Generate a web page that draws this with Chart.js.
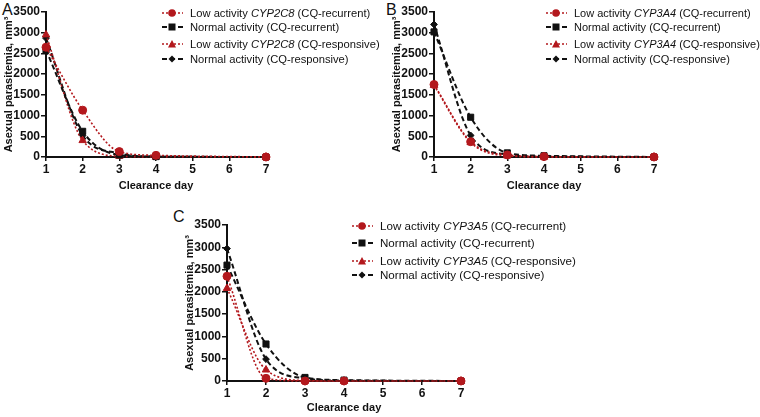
<!DOCTYPE html>
<html>
<head>
<meta charset="utf-8">
<script src="https://cdn.jsdelivr.net/npm/chart.js@4.4.0/dist/chart.umd.min.js"></script>
<style>
  body { margin: 0; background: #fff; font-family: "Liberation Sans", Arial, sans-serif; }
  #wrap { position: relative; width: 760px; height: 417px; overflow: hidden; }
  .box { position: absolute; }
  .tag { position: absolute; font-size: 16px; line-height: 16px; color: #111; }
  .leg { position: absolute; color: #111; white-space: nowrap; }
  .row { position: absolute; left: 0; height: 14px; line-height: 14px; }
  .row svg { position: absolute; left: 0; top: 2px; }
  .row .t { position: absolute; left: 28px; }
</style>
</head>
<body>
<div id="wrap">
  <div class="tag" style="left:2px;top:2px">A</div>
  <div class="tag" style="left:386px;top:2px">B</div>
  <div class="tag" style="left:173px;top:209px">C</div>

  <div class="box" style="left:0;top:0;width:280px;height:195px"><canvas id="chartA"></canvas></div>
  <div class="box" style="left:388px;top:0;width:280px;height:195px"><canvas id="chartB"></canvas></div>
  <div class="box" style="left:181px;top:213px;width:294px;height:204px"><canvas id="chartC"></canvas></div>

  <div class="leg" id="legA" style="left:162px;top:0;font-size:11.2px"></div>
  <div class="leg" id="legB" style="left:546px;top:0;font-size:11px"></div>
  <div class="leg" id="legC" style="left:352px;top:213px;font-size:11.6px"></div>
</div>

<script>
// clearance days that were sampled (5 and 6 have no points)
const days = [1, 2, 3, 4, 7];
const yMax = 3500;
const yStep = 500;

// panel A - CYP2C8
const lowC8Rec   = [2650, 1130, 130, 40, 0];
const normC8Rec  = [2580, 620, 50, 10, 0];
const lowC8Resp  = [2950, 400, 20, 0, 0];
const normC8Resp = [2870, 520, 90, 10, 0];

// panel B - CYP3A4
const lowA4Rec   = [1750, 370, 50, 10, 0];
const normA4Rec  = [3020, 960, 100, 30, 0];
const lowA4Resp  = [1730, 350, 30, 0, 0];
const normA4Resp = [3200, 520, 60, 10, 0];

// panel C - CYP3A5
const lowA5Rec   = [2350, 60, 0, 0, 0];
const normA5Rec  = [2600, 830, 80, 20, 0];
const lowA5Resp  = [2080, 250, 10, 0, 0];
const normA5Resp = [2970, 490, 60, 10, 0];

const RED = '#b3181d';
const BLACK = '#111111';

const styles = {
  lowRec:   { color: RED,   point: 'circle',   radius: 4,   dash: [2, 2], width: 1.6 },
  normRec:  { color: BLACK, point: 'rect',     radius: 4.3, dash: [5, 3], width: 2 },
  lowResp:  { color: RED,   point: 'triangle', radius: 4.3, dash: [2, 2], width: 1.6 },
  normResp: { color: BLACK, point: 'rectRot',  radius: 3.4, dash: [5, 3], width: 2 }
};

function ds(label, values, kind) {
  const s = styles[kind];
  return {
    label: label,
    data: days.map((d, i) => ({ x: d, y: values[i] })),
    borderColor: s.color,
    backgroundColor: s.color,
    borderDash: s.dash,
    borderWidth: s.width,
    pointStyle: s.point,
    pointRadius: s.radius,
    pointBorderWidth: 1,
    cubicInterpolationMode: 'monotone',
    clip: false
  };
}

function makeChart(id, sets, xHeight) {
  const tickFont = { family: '"Liberation Sans", Arial, sans-serif', size: 12, weight: 'bold' };
  const titleFont = { family: '"Liberation Sans", Arial, sans-serif', size: 11, weight: 'bold' };
  return new Chart(document.getElementById(id), {
    type: 'line',
    data: { datasets: sets },
    options: {
      responsive: true,
      maintainAspectRatio: false,
      animation: false,
      layout: { padding: { top: 12, right: 14, left: 0, bottom: 0 } },
      plugins: { legend: { display: false }, tooltip: { enabled: false } },
      scales: {
        x: {
          type: 'linear', min: 1, max: 7,
          ticks: { stepSize: 1, color: BLACK, font: tickFont, padding: 1 },
          grid: { drawOnChartArea: false, drawTicks: true, tickLength: 4, color: BLACK, lineWidth: 1.5 },
          border: { color: BLACK, width: 2 },
          title: { display: true, text: 'Clearance day', color: BLACK, font: titleFont, padding: { top: 4, bottom: 2 } },
          afterFit: (scale) => { scale.height = xHeight; }
        },
        y: {
          min: 0, max: yMax,
          ticks: { stepSize: yStep, color: BLACK, font: tickFont, padding: 1, callback: (v) => String(v) },
          grid: { drawOnChartArea: false, drawTicks: true, tickLength: 5, color: BLACK, lineWidth: 1.5 },
          border: { color: BLACK, width: 2 },
          title: { display: true, text: 'Asexual parasitemia, mm\u00b3', color: BLACK, font: titleFont, padding: { top: 2, bottom: 2 } },
          afterFit: (scale) => { scale.width = 46; }
        }
      }
    }
  });
}

function sampleSvg(kind) {
  const s = styles[kind];
  const dash = s.dash.join(',');
  let mark = '';
  if (s.point === 'circle') mark = '<circle cx="10" cy="5" r="3.8" fill="' + s.color + '"/>';
  if (s.point === 'rect') mark = '<rect x="6.5" y="1.5" width="7" height="7" fill="' + s.color + '"/>';
  if (s.point === 'triangle') mark = '<polygon points="10,1 14,8.5 6,8.5" fill="' + s.color + '"/>';
  if (s.point === 'rectRot') mark = '<polygon points="10,1.5 13.5,5 10,8.5 6.5,5" fill="' + s.color + '"/>';
  return '<svg width="22" height="10"><line x1="0" y1="5" x2="21" y2="5" stroke="' + s.color +
    '" stroke-width="' + s.width + '" stroke-dasharray="' + dash + '"/>' + mark + '</svg>';
}

function makeLegend(id, gene, tops) {
  const rows = [
    ['lowRec', 'Low activity <i>' + gene + '</i> (CQ-recurrent)'],
    ['normRec', 'Normal activity (CQ-recurrent)'],
    ['lowResp', 'Low activity <i>' + gene + '</i> (CQ-responsive)'],
    ['normResp', 'Normal activity (CQ-responsive)']
  ];
  document.getElementById(id).innerHTML = rows.map((r, i) =>
    '<div class="row" style="top:' + tops[i] + 'px">' + sampleSvg(r[0]) + '<span class="t">' + r[1] + '</span></div>'
  ).join('');
}

makeChart('chartA', [
  ds('Low activity CYP2C8 (CQ-recurrent)', lowC8Rec, 'lowRec'),
  ds('Normal activity (CQ-recurrent)', normC8Rec, 'normRec'),
  ds('Low activity CYP2C8 (CQ-responsive)', lowC8Resp, 'lowResp'),
  ds('Normal activity (CQ-responsive)', normC8Resp, 'normResp')
], 38);

makeChart('chartB', [
  ds('Low activity CYP3A4 (CQ-recurrent)', lowA4Rec, 'lowRec'),
  ds('Normal activity (CQ-recurrent)', normA4Rec, 'normRec'),
  ds('Low activity CYP3A4 (CQ-responsive)', lowA4Resp, 'lowResp'),
  ds('Normal activity (CQ-responsive)', normA4Resp, 'normResp')
], 38);

makeChart('chartC', [
  ds('Low activity CYP3A5 (CQ-recurrent)', lowA5Rec, 'lowRec'),
  ds('Normal activity (CQ-recurrent)', normA5Rec, 'normRec'),
  ds('Low activity CYP3A5 (CQ-responsive)', lowA5Resp, 'lowResp'),
  ds('Normal activity (CQ-responsive)', normA5Resp, 'normResp')
], 36);

makeLegend('legA', 'CYP2C8', [6, 20, 37, 52]);
makeLegend('legB', 'CYP3A4', [6, 20, 37, 52]);
makeLegend('legC', 'CYP3A5', [6, 23, 41, 55]);
</script>
</body>
</html>
